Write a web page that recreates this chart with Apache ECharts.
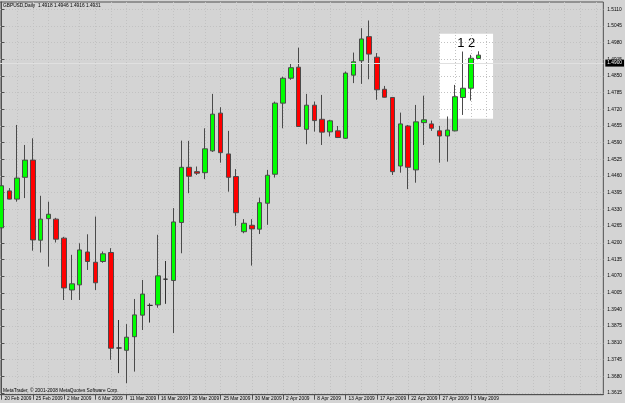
<!DOCTYPE html>
<html><head><meta charset="utf-8">
<script src="https://cdn.jsdelivr.net/npm/echarts@6/dist/echarts.min.js"></script>
<style>html,body{margin:0;padding:0;background:#d4d4d4}#c{width:625px;height:403px}</style>
</head><body><div id="c"></div>
<script>
const symbolName = 'GBPUSD,Daily';
const dates = ['20 Feb 2009','22 Feb 2009','23 Feb 2009','24 Feb 2009','25 Feb 2009','26 Feb 2009','27 Feb 2009','1 Mar 2009',
'2 Mar 2009','3 Mar 2009','4 Mar 2009','5 Mar 2009','6 Mar 2009','8 Mar 2009','9 Mar 2009','10 Mar 2009',
'11 Mar 2009','12 Mar 2009','13 Mar 2009','15 Mar 2009','16 Mar 2009','17 Mar 2009','18 Mar 2009','19 Mar 2009',
'20 Mar 2009','22 Mar 2009','23 Mar 2009','24 Mar 2009','25 Mar 2009','26 Mar 2009','27 Mar 2009','29 Mar 2009',
'30 Mar 2009','31 Mar 2009','1 Apr 2009','2 Apr 2009','2 Apr 2009','3 Apr 2009','6 Apr 2009','7 Apr 2009',
'8 Apr 2009','9 Apr 2009','10 Apr 2009','12 Apr 2009','13 Apr 2009','14 Apr 2009','15 Apr 2009','16 Apr 2009',
'17 Apr 2009','19 Apr 2009','20 Apr 2009','21 Apr 2009','22 Apr 2009','23 Apr 2009','24 Apr 2009','26 Apr 2009',
'27 Apr 2009','28 Apr 2009','29 Apr 2009','30 Apr 2009','3 May 2009','4 May 2009'];
const opens  = [1.4258,1.4402,1.4370,1.4455,1.4522,1.4210,1.4294,1.4292,1.4218,1.4016,1.4036,1.4164,1.4124,1.4127,1.4162,1.3790,
1.3781,1.3834,1.3918,1.3956,1.3958,1.4058,1.4053,1.4279,1.4494,1.4477,1.4473,1.4558,1.4705,1.4546,1.4458,1.4243,
1.4268,1.4253,1.4354,1.4467,1.4744,1.4841,1.4884,1.4642,1.4736,1.4681,1.4632,1.4636,1.4607,1.4853,1.4909,1.5003,
1.4923,1.4798,1.4766,1.4499,1.4655,1.4484,1.4668,1.4663,1.4636,1.4616,1.4636,1.4766,1.4802,1.4918];
const closes = [1.4422,1.4370,1.4452,1.4522,1.4211,1.4292,1.4311,1.4214,1.4024,1.4040,1.4172,1.4127,1.4044,1.4157,1.3789,1.3790,
1.3832,1.3919,1.4000,1.3956,1.4071,1.4058,1.4281,1.4494,1.4459,1.4471,1.4566,1.4701,1.4551,1.4455,1.4317,1.4276,
1.4254,1.4356,1.4463,1.4744,1.4841,1.4882,1.4653,1.4736,1.4676,1.4631,1.4675,1.4610,1.4861,1.4905,1.4994,1.4935,
1.4796,1.4767,1.4477,1.4663,1.4494,1.4671,1.4679,1.4646,1.4616,1.4639,1.4769,1.4802,1.4919,1.4931];
const lows   = [1.4145,1.4369,1.4360,1.4374,1.4169,1.4162,1.4107,1.4201,1.3977,1.3977,1.3977,1.4094,1.4016,1.4122,1.3744,1.3692,
1.3653,1.3698,1.3860,1.3889,1.3947,1.3962,1.3848,1.4159,1.4393,1.4464,1.4448,1.4554,1.4512,1.4399,1.4266,1.4237,
1.4111,1.4234,1.4270,1.4454,1.4646,1.4835,1.4651,1.4584,1.4633,1.4581,1.4614,1.4608,1.4605,1.4822,1.4819,1.4837,
1.4757,1.4766,1.4464,1.4473,1.4409,1.4434,1.4581,1.4636,1.4512,1.4516,1.4634,1.4698,1.4754,1.4916];
const highs  = [1.4484,1.4413,1.4659,1.4581,1.4607,1.4383,1.4360,1.4297,1.4223,1.4153,1.4198,1.4233,1.4302,1.4166,1.4179,1.3899,
1.3883,1.3981,1.4055,1.3964,1.4231,1.4129,1.4335,1.4598,1.4597,1.4497,1.4646,1.4780,1.4728,1.4636,1.4487,1.4292,
1.4292,1.4376,1.4484,1.4750,1.4847,1.4900,1.4960,1.4780,1.4750,1.4776,1.4679,1.4655,1.4867,1.4941,1.5036,1.5066,
1.4939,1.4811,1.4768,1.4707,1.4659,1.4737,1.4773,1.4676,1.4655,1.4692,1.4815,1.4945,1.4932,1.4946];
const priceTicks = [1.3615,1.3680,1.3745,1.3810,1.3875,1.3940,1.4005,1.4070,1.4135,1.4200,1.4265,1.4330,1.4395,1.4460,
1.4525,1.4590,1.4655,1.4720,1.4785,1.4850,1.4915,1.4980,1.5045,1.5110];
const dateTickIdx = [0,4,8,12,16,20,24,28,32,36,40,44,48,52,56,60];
const gridIdx = [0,2,4,6,8,10,12,14,16,18,20,22,24,26,28,30,32,34,36,38,40,42,44,46,48,50,52,54,56,58,60,62,64,66,68,70,72,74,76];
const boxBars = [56, 62.85];
const boxPrices = [1.5014, 1.4683];
const boxLabel = '1 2';

const n = dates.length;
const candleData = dates.map((d, i) => [i, opens[i], closes[i], lows[i], highs[i]]);
const last = n - 1;
const header = symbolName + '  ' + [opens[last], highs[last], lows[last], closes[last]].map(v => v.toFixed(4)).join(' ');

const chart = echarts.init(document.getElementById('c'), null, {renderer: 'canvas'});
const gridLine = {show: true, lineStyle: {color: '#c2c2c2', type: [1, 2], width: 1}};
const fontFam = '"Liberation Sans", Arial, sans-serif';
chart.setOption({
  animation: false,
  backgroundColor: '#d4d4d4',
  title: [
    {text: header, left: 3, top: 3, padding: 0, textStyle: {fontSize: 4.8, fontWeight: 'normal', color: '#000', fontFamily: fontFam}},
    {text: 'MetaTrader, © 2001-2008 MetaQuotes Software Corp.', left: 3, top: 388, padding: 0, textStyle: {fontSize: 4.8, fontWeight: 'normal', color: '#000', fontFamily: fontFam}}
  ],
  grid: {left: 0, top: 2, width: 606, height: 392.7, show: true, borderColor: '#505050', borderWidth: 1, backgroundColor: 'transparent'},
  xAxis: [{
    type: 'value', min: -0.191, max: 76.95, z: 1.5,
    axisLine: {show: true, lineStyle: {color: '#505050'}},
    axisTick: {show: true, customValues: dateTickIdx, length: 5, lineStyle: {color: '#505050'}},
    axisLabel: {customValues: dateTickIdx, formatter: v => dates[Math.round(v)] || '', align: 'left', verticalAlign: 'middle', margin: 4, padding: [0,0,0,3], fontSize: 4.8, color: '#000', fontFamily: fontFam},
    splitLine: {show: false}
  }, {
    type: 'value', min: -0.191, max: 76.95, z: 1.5, gridIndex: 0, position: 'top',
    axisLine: {show: false}, axisLabel: {show: false},
    axisTick: {show: false, customValues: gridIdx},
    splitLine: gridLine
  }],
  yAxis: {
    type: 'value', position: 'right', min: 1.3608, max: 1.5138, z: 1.5,
    axisLine: {show: true, lineStyle: {color: '#505050'}},
    axisTick: {show: true, customValues: priceTicks, length: 3, lineStyle: {color: '#505050'}},
    axisLabel: {customValues: priceTicks, formatter: v => v.toFixed(4), margin: 4, fontSize: 4.8, color: '#000', fontFamily: fontFam},
    splitLine: gridLine
  },
  series: [{
    type: 'candlestick', z: 3, barWidth: 5, xAxisIndex: 0,
    data: candleData,
    itemStyle: {color: '#00ff00', color0: '#ff0000', borderColor: '#4a4a4a', borderColor0: '#4a4a4a', borderColorDoji: '#303030', borderWidth: 1},
    markArea: {
      z: 1, silent: true,
      itemStyle: {color: '#ffffff', opacity: 1},
      label: {show: true, position: 'insideTop', distance: 3, formatter: boxLabel, fontSize: 13, color: '#000', fontFamily: fontFam},
      data: [[{xAxis: boxBars[0], yAxis: boxPrices[0]}, {xAxis: boxBars[1], yAxis: boxPrices[1]}]]
    },
    markLine: {
      silent: true, symbol: 'none',
      lineStyle: {color: '#e0e0e0', type: 'solid', width: 1},
      label: {show: true, position: 'end', distance: 2, formatter: p => p.value.toFixed(4), backgroundColor: '#000', color: '#fff', fontSize: 4.8, padding: [1, 2, 1, 2], fontFamily: fontFam},
      data: [{yAxis: closes[last]}]
    }
  }]
});
</script></body></html>
